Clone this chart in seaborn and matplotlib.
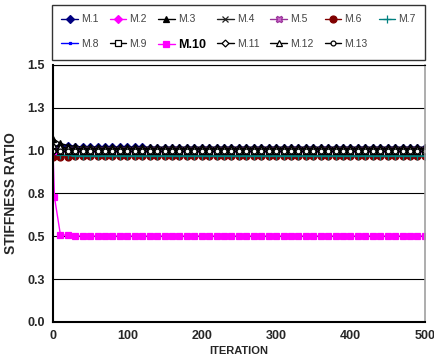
import matplotlib
matplotlib.use("Agg")
import matplotlib.pyplot as plt
import seaborn as sns
import pandas as pd

iterations = [0, 10, 20, 30, 40, 50, 60, 70, 80, 90,
              100, 110, 120, 130, 140, 150, 160, 170, 180, 190,
              200, 210, 220, 230, 240, 250, 260, 270, 280, 290,
              300, 310, 320, 330, 340, 350, 360, 370, 380, 390,
              400, 410, 420, 430, 440, 450, 460, 470, 480, 490, 500]

iterations_m10 = [0, 2, 10, 20, 30, 40, 50, 60, 70, 80, 90,
                  100, 110, 120, 130, 140, 150, 160, 170, 180, 190,
                  200, 210, 220, 230, 240, 250, 260, 270, 280, 290,
                  300, 310, 320, 330, 340, 350, 360, 370, 380, 390,
                  400, 410, 420, 430, 440, 450, 460, 470, 480, 490, 500]

m1 = [1.00, 1.030, 1.026, 1.023, 1.021, 1.020, 1.020, 1.020, 1.019, 1.019,
      1.019, 1.019, 1.019, 1.018, 1.018, 1.018, 1.018, 1.018, 1.018, 1.018,
      1.018, 1.018, 1.018, 1.018, 1.018, 1.018, 1.018, 1.018, 1.018, 1.018,
      1.018, 1.018, 1.018, 1.018, 1.018, 1.018, 1.018, 1.018, 1.018, 1.018,
      1.018, 1.018, 1.018, 1.018, 1.018, 1.018, 1.018, 1.018, 1.018, 1.018, 1.018]
m2 = [1.00, 1.000, 1.000, 1.000, 1.000, 1.000, 1.000, 1.000, 1.000, 1.000,
      1.000, 1.000, 1.000, 1.000, 1.000, 1.000, 1.000, 1.000, 1.000, 1.000,
      1.000, 1.000, 1.000, 1.000, 1.000, 1.000, 1.000, 1.000, 1.000, 1.000,
      1.000, 1.000, 1.000, 1.000, 1.000, 1.000, 1.000, 1.000, 1.000, 1.000,
      1.000, 1.000, 1.000, 1.000, 1.000, 1.000, 1.000, 1.000, 1.000, 1.000, 1.000]
m3 = [1.070, 1.042, 1.030, 1.025, 1.022, 1.021, 1.020, 1.020, 1.020, 1.020,
      1.020, 1.020, 1.020, 1.020, 1.020, 1.020, 1.020, 1.020, 1.020, 1.020,
      1.020, 1.020, 1.020, 1.020, 1.020, 1.020, 1.020, 1.020, 1.020, 1.020,
      1.020, 1.020, 1.020, 1.020, 1.020, 1.020, 1.020, 1.020, 1.020, 1.020,
      1.020, 1.020, 1.020, 1.020, 1.020, 1.020, 1.020, 1.020, 1.020, 1.020, 1.020]
m4 = [1.00, 1.008, 1.008, 1.007, 1.007, 1.007, 1.006, 1.006, 1.006, 1.006,
      1.006, 1.006, 1.006, 1.006, 1.006, 1.006, 1.006, 1.006, 1.006, 1.006,
      1.006, 1.006, 1.006, 1.006, 1.006, 1.006, 1.006, 1.006, 1.006, 1.006,
      1.006, 1.006, 1.006, 1.006, 1.006, 1.006, 1.006, 1.006, 1.006, 1.006,
      1.006, 1.006, 1.006, 1.006, 1.006, 1.006, 1.006, 1.006, 1.006, 1.006, 1.006]
m5 = [1.00, 1.002, 1.002, 1.002, 1.002, 1.002, 1.002, 1.002, 1.002, 1.002,
      1.002, 1.002, 1.002, 1.002, 1.002, 1.002, 1.002, 1.002, 1.002, 1.002,
      1.002, 1.002, 1.002, 1.002, 1.002, 1.002, 1.002, 1.002, 1.002, 1.002,
      1.002, 1.002, 1.002, 1.002, 1.002, 1.002, 1.002, 1.002, 1.002, 1.002,
      1.002, 1.002, 1.002, 1.002, 1.002, 1.002, 1.002, 1.002, 1.002, 1.002, 1.002]
m6 = [0.960, 0.962, 0.965, 0.967, 0.968, 0.969, 0.970, 0.970, 0.970, 0.970,
      0.970, 0.970, 0.970, 0.970, 0.970, 0.970, 0.970, 0.970, 0.970, 0.970,
      0.970, 0.970, 0.970, 0.970, 0.970, 0.970, 0.970, 0.970, 0.970, 0.970,
      0.970, 0.970, 0.970, 0.970, 0.970, 0.970, 0.970, 0.970, 0.970, 0.970,
      0.970, 0.970, 0.970, 0.970, 0.970, 0.970, 0.970, 0.970, 0.970, 0.970, 0.970]
m7 = [0.980, 0.975, 0.972, 0.970, 0.970, 0.970, 0.970, 0.970, 0.970, 0.970,
      0.970, 0.970, 0.970, 0.970, 0.970, 0.970, 0.970, 0.970, 0.970, 0.970,
      0.970, 0.970, 0.970, 0.970, 0.970, 0.970, 0.970, 0.970, 0.970, 0.970,
      0.970, 0.970, 0.970, 0.970, 0.970, 0.970, 0.970, 0.970, 0.970, 0.970,
      0.970, 0.970, 0.970, 0.970, 0.970, 0.970, 0.970, 0.970, 0.970, 0.970, 0.970]
m8 = [1.00, 0.996, 0.995, 0.995, 0.995, 0.995, 0.995, 0.995, 0.995, 0.995,
      0.995, 0.995, 0.995, 0.995, 0.995, 0.995, 0.995, 0.995, 0.995, 0.995,
      0.995, 0.995, 0.995, 0.995, 0.995, 0.995, 0.995, 0.995, 0.995, 0.995,
      0.995, 0.995, 0.995, 0.995, 0.995, 0.995, 0.995, 0.995, 0.995, 0.995,
      0.995, 0.995, 0.995, 0.995, 0.995, 0.995, 0.995, 0.995, 0.995, 0.995, 0.995]
m9 = [1.00, 1.000, 1.000, 1.000, 1.000, 1.000, 1.000, 1.000, 1.000, 1.000,
      1.000, 1.000, 1.000, 1.000, 1.000, 1.000, 1.000, 1.000, 1.000, 1.000,
      1.000, 1.000, 1.000, 1.000, 1.000, 1.000, 1.000, 1.000, 1.000, 1.000,
      1.000, 1.000, 1.000, 1.000, 1.000, 1.000, 1.000, 1.000, 1.000, 1.000,
      1.000, 1.000, 1.000, 1.000, 1.000, 1.000, 1.000, 1.000, 1.000, 1.000, 1.000]
m10 = [1.00, 0.730, 0.510, 0.505, 0.503, 0.502, 0.502, 0.502, 0.502, 0.502, 0.502,
       0.502, 0.502, 0.502, 0.502, 0.502, 0.502, 0.502, 0.502, 0.502, 0.502,
       0.502, 0.502, 0.502, 0.502, 0.502, 0.502, 0.502, 0.502, 0.502, 0.502,
       0.502, 0.502, 0.502, 0.502, 0.502, 0.502, 0.502, 0.502, 0.502, 0.502,
       0.502, 0.502, 0.502, 0.502, 0.502, 0.502, 0.502, 0.502, 0.502, 0.502, 0.502]
m11 = [1.00, 1.010, 1.010, 1.010, 1.010, 1.010, 1.010, 1.010, 1.010, 1.010,
       1.010, 1.010, 1.010, 1.010, 1.010, 1.010, 1.010, 1.010, 1.010, 1.010,
       1.010, 1.010, 1.010, 1.010, 1.010, 1.010, 1.010, 1.010, 1.010, 1.010,
       1.010, 1.010, 1.010, 1.010, 1.010, 1.010, 1.010, 1.010, 1.010, 1.010,
       1.010, 1.010, 1.010, 1.010, 1.010, 1.010, 1.010, 1.010, 1.010, 1.010, 1.010]
m12 = [1.035, 1.020, 1.015, 1.012, 1.012, 1.012, 1.012, 1.012, 1.012, 1.012,
       1.012, 1.012, 1.012, 1.012, 1.012, 1.012, 1.012, 1.012, 1.012, 1.012,
       1.012, 1.012, 1.012, 1.012, 1.012, 1.012, 1.012, 1.012, 1.012, 1.012,
       1.012, 1.012, 1.012, 1.012, 1.012, 1.012, 1.012, 1.012, 1.012, 1.012,
       1.012, 1.012, 1.012, 1.012, 1.012, 1.012, 1.012, 1.012, 1.012, 1.012, 1.012]
m13 = [1.00, 1.000, 1.000, 1.000, 1.000, 1.000, 1.000, 1.000, 1.000, 1.000,
       1.000, 1.000, 1.000, 1.000, 1.000, 1.000, 1.000, 1.000, 1.000, 1.000,
       1.000, 1.000, 1.000, 1.000, 1.000, 1.000, 1.000, 1.000, 1.000, 1.000,
       1.000, 1.000, 1.000, 1.000, 1.000, 1.000, 1.000, 1.000, 1.000, 1.000,
       1.000, 1.000, 1.000, 1.000, 1.000, 1.000, 1.000, 1.000, 1.000, 1.000, 1.000]

series_names = ["M.1", "M.2", "M.3", "M.4", "M.5", "M.6", "M.7",
                "M.8", "M.9", "M.10", "M.11", "M.12", "M.13"]
series_values = [m1, m2, m3, m4, m5, m6, m7, m8, m9, m10, m11, m12, m13]

y_ticks = [0.0, 0.25, 0.5, 0.75, 1.0, 1.25, 1.5]
y_tick_labels = ["0.0", "0.3", "0.5", "0.8", "1.0", "1.3", "1.5"]
x_ticks = [0, 100, 200, 300, 400, 500]

# styles: color, marker, marker face, marker size
styles = {
    "M.1": ("#000080", "D", "#000080", 4),
    "M.2": ("#FF00FF", "D", "#FF00FF", 4),
    "M.3": ("#000000", "^", "#000000", 4.5),
    "M.4": ("#222222", "x", "#222222", 4.5),
    "M.5": ("#993399", "X", "#cc66cc", 4.5),
    "M.6": ("#800000", "o", "#800000", 5),
    "M.7": ("#008080", "+", "#008080", 5.5),
    "M.8": ("#0000FF", "s", "#0000FF", 2),
    "M.9": ("#000000", "s", "white", 4),
    "M.10": ("#FF00FF", "s", "#FF00FF", 5),
    "M.11": ("#000000", "D", "white", 3.5),
    "M.12": ("#000000", "^", "white", 4),
    "M.13": ("#000000", "o", "white", 3.5),
}

sns.set_style("white")
plt.rcParams["font.family"] = ["Liberation Sans", "DejaVu Sans"]

fig = plt.figure(figsize=(4.34, 3.63), dpi=100)
ax = fig.add_axes([0.122, 0.113, 0.857, 0.708])

for name, vals in zip(series_names, series_values):
    xs = iterations_m10 if name == "M.10" else iterations
    df = pd.DataFrame({"iteration": xs, "ratio": vals})
    c, mk, mfc, ms = styles[name]
    sns.lineplot(data=df, x="iteration", y="ratio", ax=ax, color=c,
                 marker=mk, markerfacecolor=mfc, markeredgecolor=c,
                 markersize=ms, linewidth=1.0, markeredgewidth=0.9,
                 label=name, legend=False)

ax.set_xlim(0, 500)
ax.set_ylim(0, 1.5)
ax.set_yticks(y_ticks)
ax.set_yticklabels(y_tick_labels)
ax.set_xticks(x_ticks)
for t in ax.get_xticklabels() + ax.get_yticklabels():
    t.set_fontweight("bold")
    t.set_fontsize(9)
ax.tick_params(axis="both", direction="in", length=3, width=1, color="black", pad=6)
ax.yaxis.grid(True, color="black", linewidth=0.8)
ax.set_axisbelow(True)
for s in ["left", "bottom"]:
    ax.spines[s].set_color("black")
    ax.spines[s].set_linewidth(1.5)
ax.spines["right"].set_color("#a0a0a0")
ax.spines["right"].set_linewidth(1.2)
ax.spines["top"].set_color("black")
ax.spines["top"].set_linewidth(0.8)

ax.set_xlabel("ITERATION", fontsize=8, fontweight="bold", labelpad=3)
ax.set_ylabel("STIFFNESS RATIO", fontsize=10, fontweight="bold")
ax.yaxis.set_label_coords(-0.095, 0.5)

# legend filled row by row (7 columns, 2 rows)
h, l = ax.get_legend_handles_labels()
order = []
for j in range(7):
    order.append(j)
    if j + 7 < len(h):
        order.append(j + 7)
h = [h[i] for i in order]
l = [l[i] for i in order]
leg = fig.legend(h, l, ncol=7, loc="upper left",
                 bbox_to_anchor=(0.12, 0.986, 0.86, 0.0), mode="expand",
                 frameon=True, fancybox=False, edgecolor="black",
                 fontsize=7.5, handlelength=1.6, handletextpad=0.3,
                 columnspacing=0.6, borderaxespad=0.0, borderpad=0.9,
                 labelspacing=1.35)
leg.get_frame().set_linewidth(1.0)
for txt in leg.get_texts():
    txt.set_color("#444444")
    if txt.get_text() == "M.10":
        txt.set_fontweight("bold")
        txt.set_fontsize(9)
        txt.set_color("black")

fig.savefig("out.png", dpi=100)
